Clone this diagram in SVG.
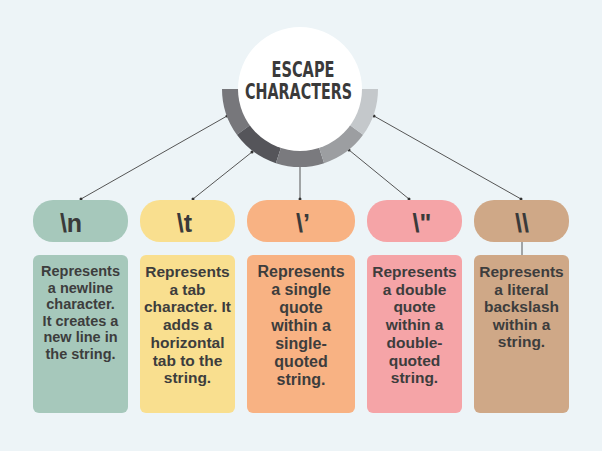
<svg xmlns="http://www.w3.org/2000/svg" width="602" height="451" viewBox="0 0 602 451">
<style>
.hd{font-family:"Liberation Sans",Arial,sans-serif;font-weight:bold;font-size:25px;fill:#3a3a3a;text-anchor:middle}
.ds{font-family:"Liberation Sans",Arial,sans-serif;font-weight:bold;font-size:15.5px;fill:#3d3d3d;text-anchor:middle}
.ttl{font-family:"DejaVu Sans","Liberation Sans",sans-serif;font-weight:bold;font-size:21px;fill:#3a3a3a;text-anchor:middle}
.cn{stroke:#555;stroke-width:1;fill:none}
.dot{fill:#333}
</style>
<rect width="602" height="451" fill="#edf4f7"/>
<g id="connectors">
<line class="cn" x1="227" y1="116" x2="81" y2="199"/>
<line class="cn" x1="252" y1="152" x2="193" y2="199"/>
<line class="cn" x1="300" y1="167" x2="300" y2="199"/>
<line class="cn" x1="349" y1="150" x2="409" y2="199"/>
<line class="cn" x1="374" y1="116" x2="521" y2="199"/>
<line class="cn" x1="522" y1="242" x2="522" y2="255"/>
<circle class="dot" cx="227" cy="116" r="1.5"/><circle class="dot" cx="81" cy="199" r="1.5"/>
<circle class="dot" cx="252" cy="152" r="1.5"/><circle class="dot" cx="193" cy="199" r="1.5"/>
<circle class="dot" cx="300" cy="199" r="1.5"/>
<circle class="dot" cx="349" cy="150" r="1.5"/><circle class="dot" cx="409" cy="199" r="1.5"/>
<circle class="dot" cx="374" cy="116" r="1.5"/><circle class="dot" cx="521" cy="199" r="1.5"/>
</g>
<g id="hub">
<path d="M222,89 A78,78 0 0 0 236.9,134.85 L255.5,121.3 A55,55 0 0 1 245,89 Z" fill="#77777b"/>
<path d="M236.9,134.85 A78,78 0 0 0 275.9,163.2 L283,141.3 A55,55 0 0 1 255.5,121.3 Z" fill="#55555a"/>
<path d="M275.9,163.2 A78,78 0 0 0 324.1,163.2 L317,141.3 A55,55 0 0 1 283,141.3 Z" fill="#7a7a7e"/>
<path d="M324.1,163.2 A78,78 0 0 0 363.1,134.85 L344.5,121.3 A55,55 0 0 1 317,141.3 Z" fill="#9c9ea1"/>
<path d="M363.1,134.85 A78,78 0 0 0 378,89 L355,89 A55,55 0 0 1 344.5,121.3 Z" fill="#c4c8cb"/>
<circle cx="300" cy="89" r="62" fill="#ffffff"/>
<text class="ttl" x="303" y="77" textLength="63" lengthAdjust="spacingAndGlyphs">ESCAPE</text>
<text class="ttl" x="298.5" y="99" textLength="107" lengthAdjust="spacingAndGlyphs">CHARACTERS</text>
</g>
<g id="n-newline">
<rect x="33" y="200" width="95" height="42" rx="20" fill="#a6c8bb"/>
<text class="hd" x="71" y="232">\n</text>
<rect x="33" y="255" width="95" height="158" rx="6" fill="#a6c8bb"/>
<text class="ds" style="font-size:14.5px"><tspan x="80.5" y="276">Represents</tspan><tspan x="80.5" y="292.5">a newline</tspan><tspan x="80.5" y="309">character.</tspan><tspan x="80.5" y="325.5">It creates a</tspan><tspan x="80.5" y="342">new line in</tspan><tspan x="80.5" y="358.5">the string.</tspan></text>
</g>
<g id="n-tab">
<rect x="140" y="200" width="95" height="42" rx="20" fill="#f9df8f"/>
<text class="hd" x="184.5" y="232">\t</text>
<rect x="140" y="255" width="95" height="158" rx="6" fill="#f9df8f"/>
<text class="ds"><tspan x="187.5" y="277">Represents</tspan><tspan x="187.5" y="294.7">a tab</tspan><tspan x="187.5" y="312.4">character. It</tspan><tspan x="187.5" y="330.1">adds a</tspan><tspan x="187.5" y="347.8">horizontal</tspan><tspan x="187.5" y="365.5">tab to the</tspan><tspan x="187.5" y="383.2">string.</tspan></text>
</g>
<g id="n-single">
<rect x="247" y="200" width="108" height="42" rx="20" fill="#f8b283"/>
<text class="hd" x="303" y="232">\’</text>
<rect x="247" y="255" width="108" height="158" rx="6" fill="#f8b283"/>
<text class="ds" style="font-size:16px"><tspan x="301" y="277">Represents</tspan><tspan x="301" y="295">a single</tspan><tspan x="301" y="313">quote</tspan><tspan x="301" y="331">within a</tspan><tspan x="301" y="349">single-</tspan><tspan x="301" y="367">quoted</tspan><tspan x="301" y="385">string.</tspan></text>
</g>
<g id="n-double">
<rect x="367" y="200" width="95" height="42" rx="20" fill="#f5a4a7"/>
<text class="hd" x="422" y="232">\"</text>
<rect x="367" y="255" width="95" height="158" rx="6" fill="#f5a4a7"/>
<text class="ds"><tspan x="414.5" y="277">Represents</tspan><tspan x="414.5" y="294.7">a double</tspan><tspan x="414.5" y="312.4">quote</tspan><tspan x="414.5" y="330.1">within a</tspan><tspan x="414.5" y="347.8">double-</tspan><tspan x="414.5" y="365.5">quoted</tspan><tspan x="414.5" y="383.2">string.</tspan></text>
</g>
<g id="n-backslash">
<rect x="474" y="200" width="95" height="42" rx="20" fill="#cfa887"/>
<text class="hd" x="522" y="232">\\</text>
<rect x="474" y="255" width="95" height="158" rx="6" fill="#cfa887"/>
<text class="ds"><tspan x="521.5" y="277">Represents</tspan><tspan x="521.5" y="294.5">a literal</tspan><tspan x="521.5" y="312">backslash</tspan><tspan x="521.5" y="329.5">within a</tspan><tspan x="521.5" y="347">string.</tspan></text>
</g>
</svg>
